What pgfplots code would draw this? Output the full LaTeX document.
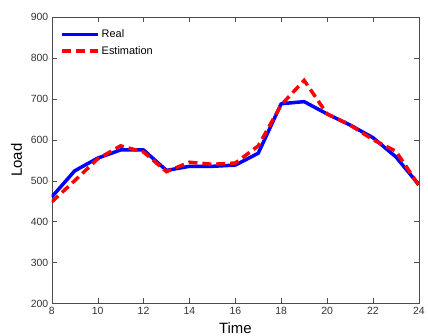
\documentclass[border=0pt]{standalone}
\usepackage{pgfplots}
\pgfplotsset{compat=1.18}
\usepackage{fontspec}
\setmainfont{Liberation Sans}
\begin{document}
\begin{tikzpicture}[x=1pt,y=1pt]
\begin{axis}[
  scale only axis,
  width=369pt, height=288pt,
  xmin=8, xmax=24, ymin=200, ymax=900,
  xtick={8,10,...,24}, ytick={200,300,...,900},
  tick align=inside,
  axis line style={draw=black!70},
  tick style={draw=black!70, major tick length=5pt},
  tick label style={font=\fontsize{10.5}{12}\selectfont, text=black!80},
  /pgf/number format/assume math mode=true,
  xlabel={Time}, ylabel={Load},
  label style={font=\fontsize{15}{17}\selectfont},
  xlabel style={yshift=-1pt, overlay},
  ylabel style={yshift=2pt},
  legend style={draw=none, fill=none, at={(0.015,0.97)}, anchor=north west, font=\fontsize{11}{13}\selectfont, row sep=3pt},
  legend cell align=left,
  legend image code/.code={\draw[#1] (0pt,0pt) -- (36pt,0pt);},
]
\addplot[color=blue, line width=3.5pt, line join=round] coordinates {
(8,460) (9,524) (10,555) (11,575) (12,575) (13,525) (14,535) (15,535) (16,538) (17,567) (18,688) (19,693) (20,663) (21,636) (22,605) (23,558) (24,490)};
\addlegendentry{Real}
\addplot[color=red, line width=3.5pt, dash pattern=on 9pt off 5pt] coordinates {
(8,448) (9,500) (10,553) (11,585) (12,570) (13,522) (14,545) (15,540) (16,543) (17,585) (18,685) (19,745) (20,663) (21,636) (22,600) (23,572) (24,488)};
\addlegendentry{Estimation}
\end{axis}
\path (current axis.south west) ++(-52pt,-32pt) coordinate (bl);
\path (current axis.north east) ++(7pt,17pt) coordinate (tr);
\path (bl) rectangle (tr);
\end{tikzpicture}
\end{document}
